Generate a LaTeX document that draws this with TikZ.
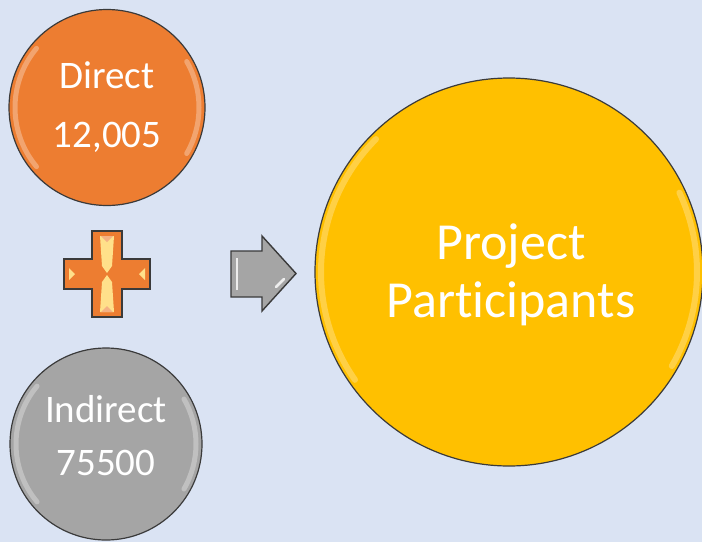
\documentclass[tikz,border=0pt]{standalone}
\usepackage{fontspec}
\setmainfont{Carlito}[Ligatures=NoCommon]
\definecolor{bg}{HTML}{DAE3F3}
\definecolor{orangeA}{HTML}{ED7D31}
\definecolor{grayA}{HTML}{A5A5A5}
\definecolor{yellowA}{HTML}{FFC000}
\definecolor{edgeA}{HTML}{3A3A3A}
\definecolor{hiliteA}{HTML}{FFE08A}
\begin{document}
\begin{tikzpicture}[x=1pt,y=-1pt,
  ball/.style={circle, inner sep=0pt, draw=edgeA, line width=1.2pt},
  lbl/.style={anchor=base, text=white, inner sep=0pt},
  shine/.style={white, opacity=0.3, line width=5pt, line cap=round},
  shapeedge/.style={draw=edgeA, line width=1.4pt, line join=miter}]
\fill[bg] (0,0) rectangle (702,542);
\useasboundingbox (0,0) rectangle (702,542);

% circles
\node[ball, fill=orangeA, minimum size=196pt] (direct) at (107,107.5) {};
\node[ball, fill=grayA, minimum size=192pt] (indirect) at (106,444) {};
\node[ball, fill=yellowA, minimum size=388pt] (project) at (509,272) {};

% glossy edge highlights
\draw[shine] (107,107.5) ++(-140:92) arc[start angle=-140, end angle=-220, radius=92];
\draw[shine] (107,107.5) ++(30:92) arc[start angle=30, end angle=-30, radius=92];
\draw[shine] (106,444) ++(-140:90) arc[start angle=-140, end angle=-220, radius=90];
\draw[shine] (106,444) ++(30:90) arc[start angle=30, end angle=-30, radius=90];
\draw[shine, hiliteA, opacity=0.5, line width=6pt] (509,272) ++(-135:188) arc[start angle=-135, end angle=-215, radius=188];
\draw[shine, hiliteA, opacity=0.5, line width=6pt] (509,272) ++(30:188) arc[start angle=30, end angle=-25, radius=188];

% texts
\node[lbl, font=\fontsize{39}{47}\selectfont] (t1) at (107,88) {Direct};
\node[lbl, font=\fontsize{39}{47}\selectfont] (t2) at (107,147) {12,005};
\node[lbl, font=\fontsize{39}{47}\selectfont] (t3) at (106,422) {Indirect};
\node[lbl, font=\fontsize{39}{47}\selectfont] (t4) at (106,475) {75500};
\node[lbl, font=\fontsize{52}{60}\selectfont] (t5) at (511,259) {Project};
\node[lbl, font=\fontsize{52}{60}\selectfont] (t6) at (511,317) {Participants};

% plus sign
\path[shapeedge, fill=orangeA]
  (92,231) -- (122,231) -- (122,259) -- (150,259) -- (150,289) -- (122,289)
  -- (122,317) -- (92,317) -- (92,289) -- (64,289) -- (64,259) -- (92,259) -- cycle;
\fill[hiliteA] (100,236) -- (114,236) -- (112,266) -- (107,273) -- (102,266) -- cycle;
\fill[hiliteA] (100,312) -- (114,312) -- (112,282) -- (107,275) -- (102,282) -- cycle;
\fill[orangeA!60!white] (101,236) -- (107,242) -- (113,236) -- cycle;
\fill[orangeA!60!white] (101,312) -- (107,306) -- (113,312) -- cycle;
\fill[hiliteA] (69,268) -- (75,274) -- (69,280) -- cycle;
\fill[hiliteA] (145,268) -- (139,274) -- (145,280) -- cycle;

% arrow
\path[shapeedge, fill=grayA]
  (231,251) -- (262,251) -- (262,236) -- (296,273.5) -- (262,311)
  -- (262,297) -- (231,297) -- cycle;
\draw[white, opacity=0.8, line width=2.5pt] (237,258) -- (237,290);
\draw[white, opacity=0.8, line width=2.5pt, line cap=round] (276,287) -- (284,279);
\end{tikzpicture}
\end{document}
